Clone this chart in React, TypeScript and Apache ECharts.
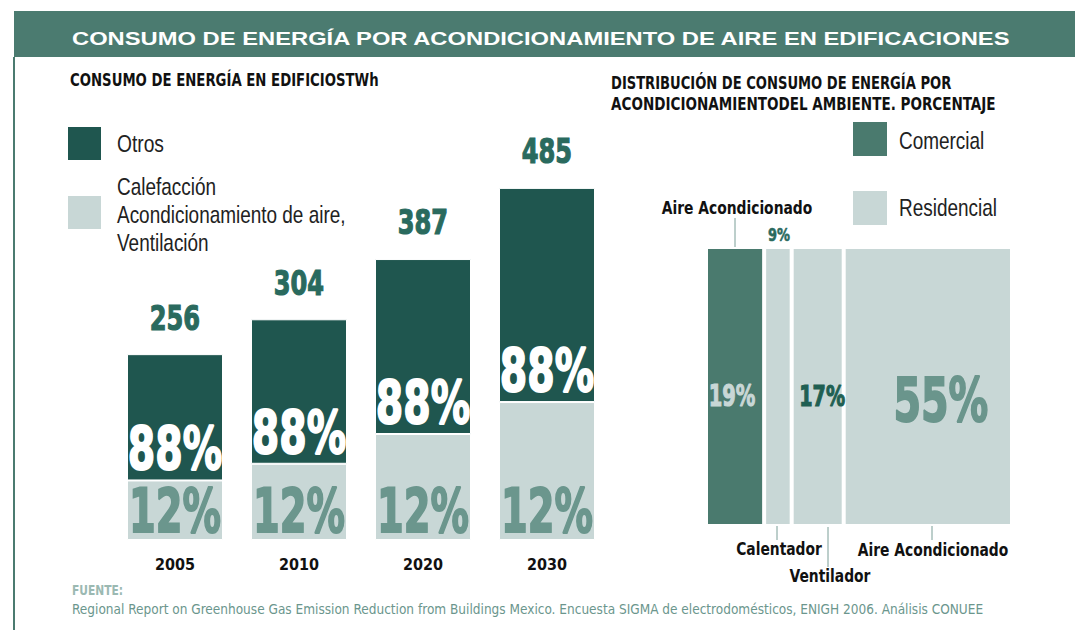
import React, { useEffect, useRef } from "react";
import * as echarts from "echarts";

// ---- data ----
const years = ["2005", "2010", "2020", "2030"];
const totals = [256, 304, 387, 485]; // TWh
const lowerSegment = [82, 105, 146, 190]; // light segment as drawn in the picture
const shareOtros = "88%";
const shareClima = "12%";
const legendLeft = ["Otros", "Calefacción\nAcondicionamiento de aire,\nVentilación"];
const distLabels = ["Aire Acondicionado", "Calentador", "Ventilador", "Aire Acondicionado"];
const distValues = [19, 9, 17, 55];
const legendRight = ["Comercial", "Residencial"];

const COND = '"DejaVu Sans Condensed", "DejaVu Sans", sans-serif';
const HEAVY = '"DejaVu Sans", sans-serif';
const SANS = '"Liberation Sans", Arial, sans-serif';
const C_TITLE = "#4b7b70";
const C_DARK = "#1f564f";
const C_LIGHT = "#c8d7d6";
const C_COM = "#4a7a6e";
const C_MID = "#6b968d";
const C_NUM = "#2a6a5e";

function txt(x: number, y: number, text: string, font: string, fill: string, sx = 1, align = "left", lineHeight?: number, heavy = 0) {
  const style: any = { text, font, fill, align, verticalAlign: "middle" };
  if (lineHeight) style.lineHeight = lineHeight;
  if (heavy) { style.stroke = fill; style.lineWidth = heavy; }
  return { type: "text", x, y, scaleX: sx, style };
}

export default function App() {
  const ref = useRef<HTMLDivElement>(null);
  useEffect(() => {
    if (!ref.current) return;
    const chart = echarts.init(ref.current, undefined, { renderer: "svg" });
    const upper = totals.map((t, i) => t - lowerSegment[i]);
    const distColors = [C_COM, C_LIGHT, C_LIGHT, C_LIGHT];
    const cum: number[] = [];
    distValues.reduce((acc, v, i) => { cum[i] = acc; return acc + v; }, 0);
    // label styling for the right-hand percentages
    const distLabelStyle = [
      { size: 31, color: C_LIGHT, sx: 0.63, dx: -3, dy: 8.5, above: false, heavy: 1.2 },
      { size: 17.5, color: C_NUM, sx: 0.74, dx: 1, dy: -11.5, above: true, heavy: 0.6 },
      { size: 29, color: "#1f5f52", sx: 0.66, dx: 4.5, dy: 9, above: false, heavy: 1.2 },
      { size: 61, color: "#6a958c", sx: 0.65, dx: 13, dy: 13.5, above: false, heavy: 2 },
    ];
    const option: any = {
      animation: false,
      grid: [
        { left: 113, top: 177, width: 496, height: 363 },
        { left: 706, top: 247, width: 306, height: 279 },
      ],
      xAxis: [
        {
          type: "category", gridIndex: 0, data: years,
          axisLine: { show: false }, axisTick: { show: false },
          axisLabel: { color: "#111", fontSize: 16, fontWeight: "bold", fontFamily: COND, margin: 16 },
        },
        { type: "value", gridIndex: 1, min: 0, max: 100, show: false },
      ],
      yAxis: [
        { type: "value", gridIndex: 0, min: 0, max: 500, show: false },
        { type: "category", gridIndex: 1, data: ["dist"], show: false },
      ],
      series: [
        {
          name: legendLeft[1], type: "bar", xAxisIndex: 0, yAxisIndex: 0, stack: "a", barWidth: 96,
          data: lowerSegment,
          itemStyle: { color: C_LIGHT, borderColor: "#fff", borderWidth: 1 },
        },
        {
          name: legendLeft[0], type: "bar", xAxisIndex: 0, yAxisIndex: 0, stack: "a", barWidth: 96,
          data: upper,
          itemStyle: { color: C_DARK, borderColor: "#fff", borderWidth: 1 },
        },
        {
          name: "labels", type: "custom", xAxisIndex: 0, yAxisIndex: 0, z: 10, clip: false,
          data: years.map((_, i) => [i, lowerSegment[i], totals[i]]),
          renderItem: (_p: any, api: any) => {
            const i = api.value(0), low = api.value(1), tot = api.value(2);
            const base = api.coord([i, 0]);
            const split = api.coord([i, low]);
            const top = api.coord([i, tot]);
            return {
              type: "group",
              children: [
                txt(base[0], base[1] - 29, shareClima, `bold 60px ${HEAVY}`, C_MID, 0.64, "center", undefined, 2),
                txt(split[0], split[1] - 31, shareOtros, `bold 58px ${HEAVY}`, "#fff", 0.68, "center", undefined, 2),
                txt(top[0], top[1] - 36, String(tot), `bold 33px ${HEAVY}`, C_NUM, 0.73, "center", undefined, 1.2),
              ],
            };
          },
        },
        ...distValues.map((v, i) => ({
          name: distLabels[i] + " " + i, type: "bar", xAxisIndex: 1, yAxisIndex: 1, stack: "b", barWidth: "100%",
          data: [v],
          itemStyle: { color: distColors[i], borderColor: "#fff", borderWidth: 2 },
        })),
        {
          name: "distLabels", type: "custom", xAxisIndex: 1, yAxisIndex: 1, z: 10, clip: false,
          data: distValues.map((v, i) => [cum[i], v, i]),
          renderItem: (_p: any, api: any) => {
            const start = api.value(0), v = api.value(1), i = api.value(2);
            const c = api.coord([start + v / 2, 0]);
            const h = api.size([0, 1])[1];
            const s = distLabelStyle[i];
            const y = s.above ? c[1] - h / 2 + s.dy : c[1] + s.dy;
            return txt(c[0] + s.dx, y, v + "%", `bold ${s.size}px ${HEAVY}`, s.color, s.sx, "center", undefined, s.heavy);
          },
        },
      ],
      graphic: [
        { type: "rect", shape: { x: 14, y: 11, width: 1061, height: 46 }, style: { fill: C_TITLE } },
        { type: "line", shape: { x1: 14, y1: 57, x2: 14, y2: 630 }, style: { stroke: C_TITLE, lineWidth: 2 } },
        txt(72, 39, "CONSUMO DE ENERGÍA POR ACONDICIONAMIENTO DE AIRE EN EDIFICACIONES", `bold 18px ${SANS}`, "#fff", 1.32),
        txt(70, 80, "CONSUMO DE ENERGÍA EN EDIFICIOSTWh", `bold 18px ${COND}`, "#111", 0.82),
        txt(611, 83, "DISTRIBUCIÓN DE CONSUMO DE ENERGÍA POR", `bold 18px ${COND}`, "#111", 0.81),
        txt(611, 104, "ACONDICIONAMIENTODEL AMBIENTE. PORCENTAJE", `bold 18px ${COND}`, "#111", 0.836),
        // left legend
        { type: "rect", shape: { x: 68, y: 127, width: 33, height: 33 }, style: { fill: C_DARK } },
        txt(117, 144, legendLeft[0], `24px ${SANS}`, "#222", 0.8),
        { type: "rect", shape: { x: 68, y: 196, width: 33, height: 33 }, style: { fill: C_LIGHT } },
        txt(117, 215, legendLeft[1], `24px ${SANS}`, "#222", 0.79, "left", 28),
        // right legend
        { type: "rect", shape: { x: 853, y: 122, width: 34, height: 34 }, style: { fill: C_COM } },
        txt(899, 141, legendRight[0], `24px ${SANS}`, "#222", 0.79),
        { type: "rect", shape: { x: 853, y: 191, width: 34, height: 34 }, style: { fill: C_LIGHT } },
        txt(899, 208, legendRight[1], `24px ${SANS}`, "#222", 0.79),
        // annotations
        txt(737, 208, distLabels[0], `bold 17.5px ${COND}`, "#111", 0.88, "center"),
        { type: "line", shape: { x1: 735, y1: 218, x2: 735, y2: 248 }, style: { stroke: "#7a9e97", lineWidth: 1 } },
        { type: "line", shape: { x1: 777, y1: 525, x2: 777, y2: 540 }, style: { stroke: "#7a9e97", lineWidth: 1 } },
        txt(779, 549, distLabels[1], `bold 17.5px ${COND}`, "#111", 0.88, "center"),
        { type: "line", shape: { x1: 828, y1: 527, x2: 828, y2: 567 }, style: { stroke: "#7a9e97", lineWidth: 1 } },
        txt(830, 576, distLabels[2], `bold 17.5px ${COND}`, "#111", 0.88, "center"),
        { type: "line", shape: { x1: 932, y1: 524, x2: 932, y2: 540 }, style: { stroke: "#7a9e97", lineWidth: 1 } },
        txt(933, 550, distLabels[3], `bold 17.5px ${COND}`, "#111", 0.88, "center"),
        // footer
        txt(72, 590, "FUENTE:", `bold 14px ${COND}`, "#9bb9b2", 0.85),
        txt(72, 609, "Regional Report on Greenhouse Gas Emission Reduction from Buildings Mexico. Encuesta SIGMA de electrodomésticos, ENIGH 2006. Análisis CONUEE", `13.5px ${COND}`, C_MID),
      ],
    };
    chart.setOption(option);
    return () => chart.dispose();
  }, []);
  return <div ref={ref} style={{ position: "fixed", left: 0, top: 0, width: 1075, height: 630, background: "#fff" }} />;
}
